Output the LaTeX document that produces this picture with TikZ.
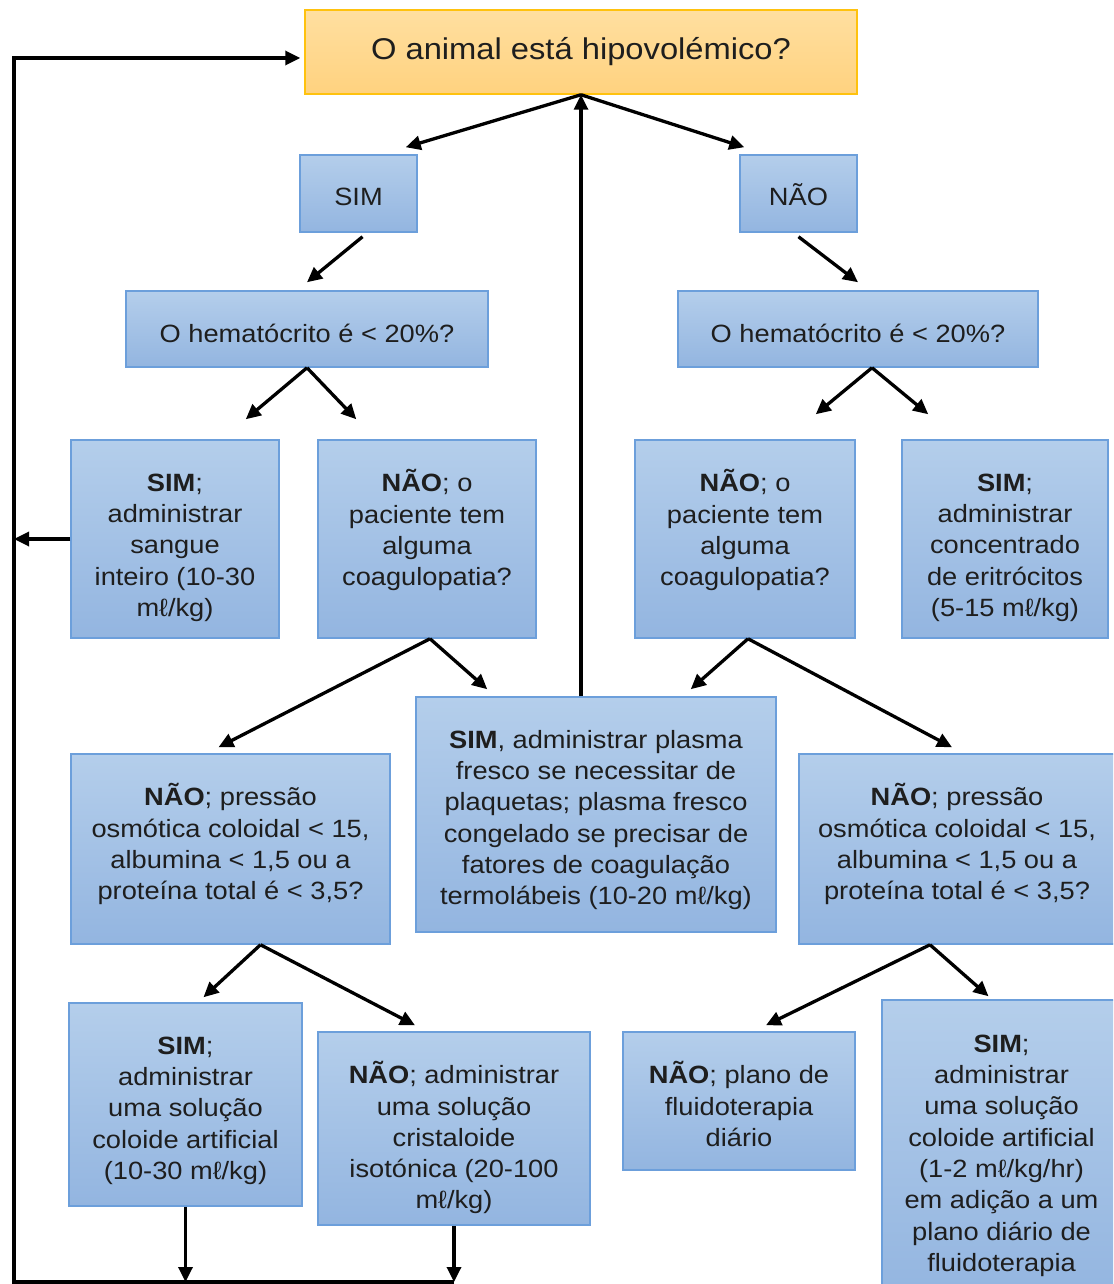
\documentclass[tikz,border=0pt]{standalone}
\usepackage{fontspec}
\setmainfont{Liberation Sans}[FakeStretch=1.09]
\usepackage{xcolor}
\usetikzlibrary{arrows.meta}

\definecolor{boxtop}{HTML}{B4CEEB}
\definecolor{boxbottom}{HTML}{93B5E0}
\definecolor{boxline}{HTML}{6C9FDB}
\definecolor{maintop}{HTML}{FFDFA0}
\definecolor{mainbottom}{HTML}{FFD27F}
\definecolor{mainline}{HTML}{FFC20E}
\definecolor{textgray}{HTML}{1E1E1E}

\begin{document}
\begin{tikzpicture}[x=1pt,y=-1pt]
      \tikzstyle{step_box}=[draw=boxline, line width=1.5pt, top color=boxtop, bottom color=boxbottom, inner sep=0pt]
      \tikzstyle{main_box}=[step_box, draw=mainline, top color=maintop, bottom color=mainbottom, text=textgray, font=\fontsize{30}{36}\selectfont]
      \tikzstyle{box_text}=[align=center, anchor=north, text=textgray, inner sep=0pt, font=\fontsize{25}{31.3}\selectfont]
      \tikzstyle{flow}=[line width=3.3pt, -{Triangle[length=15pt,width=14pt]}]

      \useasboundingbox (0,0) rectangle (1113,1284);
      \clip (0,0) rectangle (1113,1284);

      \node [main_box, minimum width=552pt, minimum height=84pt] (hipo) at (581,52) {O animal está hipovolémico?};

      \node [step_box, minimum width=117pt, minimum height=77pt] (sim) at (358.5,193.5) {};
      \node [box_text] (simText) at ([yshift=-29pt]sim.north) {\strut SIM};
      \node [step_box, minimum width=117pt, minimum height=77pt] (nao) at (798.5,193.5) {};
      \node [box_text] (naoText) at ([yshift=-29pt]nao.north) {\strut NÃO};

      \node [step_box, minimum width=362pt, minimum height=76pt] (hemA) at (307,329) {};
      \node [box_text] (hemAText) at ([yshift=-30pt]hemA.north) {\strut O hematócrito é < 20\%?};
      \node [step_box, minimum width=360pt, minimum height=76pt] (hemB) at (858,329) {};
      \node [box_text] (hemBText) at ([yshift=-30pt]hemB.north) {\strut O hematócrito é < 20\%?};

      \node [step_box, minimum width=208pt, minimum height=198pt] (sangue) at (175,539) {};
      \node [box_text] (sangueText) at ([yshift=-30pt]sangue.north)
        {\strut\textbf{SIM};\\administrar\\sangue\\inteiro (10-30\\mℓ/kg)};
      \node [step_box, minimum width=218pt, minimum height=198pt] (coagA) at (427,539) {};
      \node [box_text] (coagAText) at ([yshift=-30pt]coagA.north)
        {\strut\textbf{NÃO}; o\\paciente tem\\alguma\\coagulopatia?};
      \node [step_box, minimum width=220pt, minimum height=198pt] (coagB) at (745,539) {};
      \node [box_text] (coagBText) at ([yshift=-30pt]coagB.north)
        {\strut\textbf{NÃO}; o\\paciente tem\\alguma\\coagulopatia?};
      \node [step_box, minimum width=206pt, minimum height=198pt] (eritro) at (1005,539) {};
      \node [box_text] (eritroText) at ([yshift=-30pt]eritro.north)
        {\strut\textbf{SIM};\\administrar\\concentrado\\de eritrócitos\\(5-15 mℓ/kg)};

      \node [step_box, minimum width=360pt, minimum height=235pt] (plasma) at (596,814.5) {};
      \node [box_text] (plasmaText) at ([yshift=-30pt]plasma.north)
        {\strut\textbf{SIM}, administrar plasma\\fresco se necessitar de\\plaquetas; plasma fresco\\congelado se precisar de\\fatores de coagulação\\termolábeis (10-20 mℓ/kg)};
      \node [step_box, minimum width=319pt, minimum height=190pt] (pressA) at (230.5,849) {};
      \node [box_text] (pressAText) at ([yshift=-30pt]pressA.north)
        {\strut\textbf{NÃO}; pressão\\osmótica coloidal < 15,\\albumina < 1,5 ou a\\proteína total é < 3,5?};
      \node [step_box, minimum width=316pt, minimum height=190pt] (pressB) at (957,849) {};
      \node [box_text] (pressBText) at ([yshift=-30pt]pressB.north)
        {\strut\textbf{NÃO}; pressão\\osmótica coloidal < 15,\\albumina < 1,5 ou a\\proteína total é < 3,5?};

      \node [step_box, minimum width=233pt, minimum height=203pt] (coloideA) at (185.5,1104.5) {};
      \node [box_text] (coloideAText) at ([yshift=-30pt]coloideA.north)
        {\strut\textbf{SIM};\\administrar\\uma solução\\coloide artificial\\(10-30 mℓ/kg)};
      \node [step_box, minimum width=272pt, minimum height=193pt] (crista) at (454,1128.5) {};
      \node [box_text] (cristaText) at ([yshift=-30pt]crista.north)
        {\strut\textbf{NÃO}; administrar\\uma solução\\cristaloide\\isotónica (20-100\\mℓ/kg)};
      \node [step_box, minimum width=232pt, minimum height=138pt] (plano) at (739,1101) {};
      \node [box_text] (planoText) at ([yshift=-30pt]plano.north)
        {\strut\textbf{NÃO}; plano de\\fluidoterapia\\diário};
      \node [step_box, minimum width=239pt, minimum height=300pt] (coloideB) at (1001.5,1150) {};
      \node [box_text] (coloideBText) at ([yshift=-31pt]coloideB.north)
        {\strut\textbf{SIM};\\administrar\\uma solução\\coloide artificial\\(1-2 mℓ/kg/hr)\\em adição a um\\plano diário de\\fluidoterapia};

      \coordinate (loopTop) at (14,58);
      \coordinate (loopBottom) at (14,1282);

      \draw [flow] (hipo.south) -- ([xshift=-12pt,yshift=7pt]sim.north east);
      \draw [flow] (hipo.south) -- ([xshift=5pt,yshift=7pt]nao.north west);
      \draw [flow] (plasma.north -| hipo.south) -- (hipo.south);

      \draw [flow] ([xshift=4pt,yshift=-4pt]sim.south) -- ([yshift=8pt]hemA.north);
      \draw [flow] ([yshift=-4pt]nao.south) -- ([yshift=8pt]hemB.north);

      \draw [flow] (hemA.south) -- ([xshift=-34pt,yshift=20pt]sangue.north east);
      \draw [flow] (hemA.south) -- ([xshift=39pt,yshift=20pt]coagA.north west);
      \draw [flow] ([xshift=14pt]hemB.south) -- ([xshift=-40pt,yshift=25pt]coagB.north east);
      \draw [flow] ([xshift=14pt]hemB.south) -- ([xshift=27pt,yshift=25pt]eritro.north west);

      \draw [flow] ([xshift=3pt]coagA.south) -- ([xshift=-12pt,yshift=6pt]pressA.north);
      \draw [flow] ([xshift=3pt]coagA.south) -- ([xshift=72pt,yshift=7pt]plasma.north west);
      \draw [flow] ([xshift=3pt]coagB.south) -- ([xshift=-86pt,yshift=7pt]plasma.north east);
      \draw [flow] ([xshift=3pt]coagB.south) -- ([xshift=-5pt,yshift=6pt]pressB.north);

      \draw [flow] ([xshift=30pt]pressA.south) -- ([xshift=18pt,yshift=5pt]coloideA.north);
      \draw [flow] ([xshift=30pt]pressA.south) -- ([xshift=-39pt,yshift=6pt]crista.north);
      \draw [flow] ([xshift=-27pt]pressB.south) -- ([xshift=27pt,yshift=6pt]plano.north);
      \draw [flow] ([xshift=-27pt]pressB.south) -- ([xshift=-13pt,yshift=3pt]coloideB.north);

      \draw [flow] (sangue.west) -- (sangue.west -| loopTop);
      \draw [flow] (coloideA.south) -- (coloideA.south |- loopBottom);
      \draw [flow] (crista.south) -- (crista.south |- loopBottom);
      \draw [flow, shorten >=4pt] (crista.south |- loopBottom) -- (loopBottom) -- (loopTop) -- (loopTop -| hipo.west);

    \end{tikzpicture}
\end{document}
